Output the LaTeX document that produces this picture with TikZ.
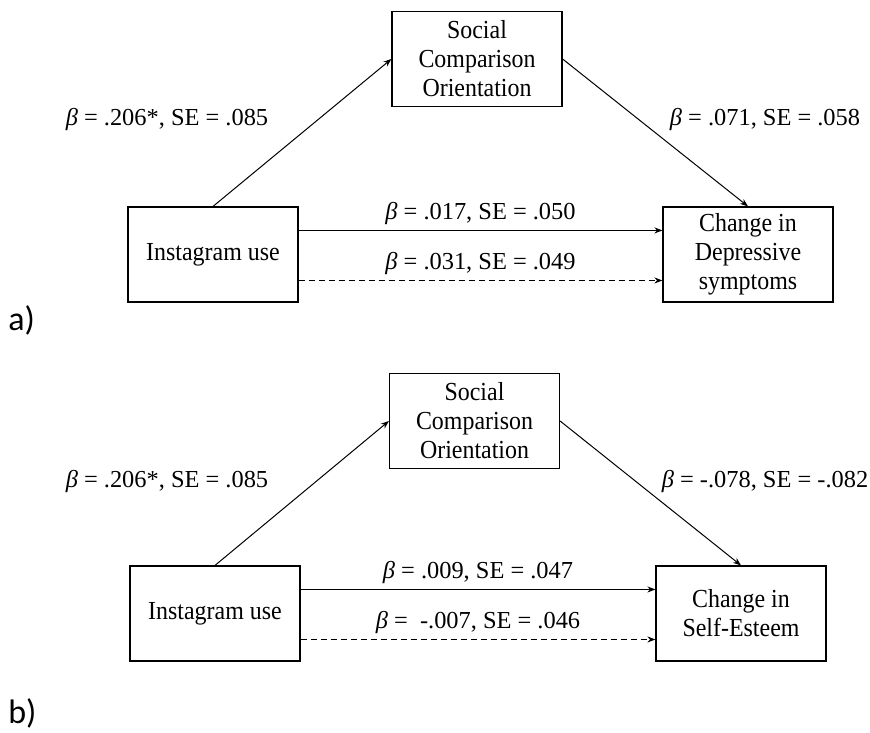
\documentclass[tikz,border=0pt]{standalone}
\usepackage{fontspec}
\setmainfont{Liberation Serif}
\newfontfamily\boxfont{Liberation Serif}[FakeStretch=0.92]
\newfontfamily\panelfont{Carlito}
\usetikzlibrary{calc}
\usetikzlibrary{positioning}
\usetikzlibrary{arrows.meta}

\begin{document}
\begin{tikzpicture}[%
  >={Stealth[length=4pt,width=3pt]},
  x=0.5pt, y=-0.5pt,
  box/.style={draw=black, line width=0.6pt, minimum width=85pt,
    minimum height=47.5pt, inner sep=0pt, align=center,
    font=\boxfont\fontsize{13}{14.5}\selectfont},
  coef/.style={font=\fontsize{12.2}{14}\selectfont, inner sep=1pt},
  link/.style={->, line width=0.5pt},
  panel/.style={font=\panelfont\fontsize{17}{20}\selectfont, inner sep=0pt},
]

  \useasboundingbox (0,0) rectangle (870,732);

  % a) depressive symptoms
  \node[box] (scoA) at (477,59) {Social\\Comparison\\Orientation};
  \node[box] (igA) at (213,254.5) {Instagram use};
  \node[box] (depA) at (748,254.5) {Change in\\Depressive\\symptoms};

  \draw[link] (igA.north) -- (scoA.west);
  \draw[link] (scoA.east) -- (depA.north);
  \draw[link] ($(igA.north east)!0.25!(igA.south east)$)
    -- ($(depA.north west)!0.25!(depA.south west)$)
    node[coef, midway, above=1.5pt] (cA) {{\itshape β} = .017, SE = .050};
  \draw[link, densely dashed] ($(igA.north east)!0.77!(igA.south east)$)
    -- ($(depA.north west)!0.77!(depA.south west)$)
    node[coef, midway, above=1.5pt] (tA) {{\itshape β} = .031, SE = .049};

  \node[coef] (aA) at (167,120) {{\itshape β} = .206*, SE = .085};
  \node[coef] (bA) at (765,120) {{\itshape β} = .071, SE = .058};
  \node[panel, anchor=west] (pA) at (8,320) {a)};

  % b) self-esteem
  \node[box] (scoB) at (474.5,421) {Social\\Comparison\\Orientation};
  \node[box] (igB) at (215,613.5) {Instagram use};
  \node[box] (seB) at (741,613.5) {Change in\\Self-Esteem};

  \draw[link] (igB.north) -- (scoB.west);
  \draw[link] (scoB.east) -- (seB.north);
  \draw[link] ($(igB.north east)!0.25!(igB.south east)$)
    -- ($(seB.north west)!0.25!(seB.south west)$)
    node[coef, midway, above=1.5pt] (cB) {{\itshape β} = .009, SE = .047};
  \draw[link, densely dashed] ($(igB.north east)!0.77!(igB.south east)$)
    -- ($(seB.north west)!0.77!(seB.south west)$)
    node[coef, midway, above=1.5pt] (tB) {{\itshape β} =\ \ -.007, SE = .046};

  \node[coef] (aB) at (167,482) {{\itshape β} = .206*, SE = .085};
  \node[coef] (bB) at (765,482) {{\itshape β} = -.078, SE = -.082};
  \node[panel, anchor=west] (pB) at (8,713) {b)};

\end{tikzpicture}
\end{document}
